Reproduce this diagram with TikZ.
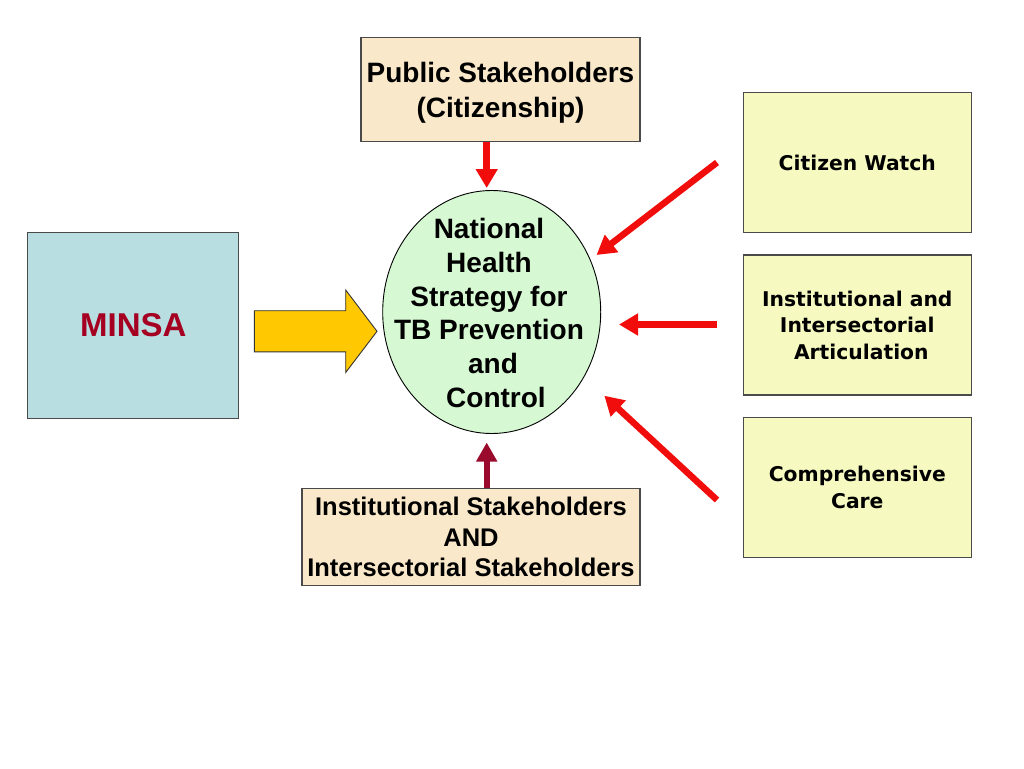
\documentclass[tikz,border=0pt]{standalone}
\usepackage{fontspec}
\setmainfont{Liberation Sans}
\newfontfamily\dejavu{DejaVu Sans}
\usetikzlibrary{arrows.meta,shapes.geometric}
\definecolor{wheatfill}{HTML}{F9E8C9}
\definecolor{limefill}{HTML}{F6FAC0}
\definecolor{bluefill}{HTML}{B8DEE2}
\definecolor{greenfill}{HTML}{D6F8D2}
\definecolor{minsared}{HTML}{A50021}
\definecolor{arrred}{HTML}{F20D0D}
\definecolor{darkred}{HTML}{990A2C}
\definecolor{boxline}{HTML}{4A4A4A}
\definecolor{goldfill}{HTML}{FFC800}
\tikzset{
  x=1pt, y=-1pt,
  stakebox/.style={draw=boxline, line width=1.2pt, fill=wheatfill, inner sep=0pt, align=center,
    font=\bfseries\fontsize{28}{35}\selectfont},
  sidebox/.style={draw=boxline, line width=1.2pt, fill=limefill, inner sep=0pt, align=center,
    minimum width=228pt, minimum height=140pt, font=\dejavu\bfseries\fontsize{20.3}{26.5}\selectfont},
  redarrow/.style={draw=arrred, line width=6.5pt, -{Triangle[length=19pt,width=21pt]}},
}
\begin{document}
\begin{tikzpicture}
\useasboundingbox[fill=white] (0,0) rectangle (1024,768);

% top and bottom boxes
\node[stakebox, minimum width=279pt, minimum height=104pt] (pub) at (500.5,89.5) {};
\node[align=center, font=\bfseries\fontsize{28}{35}\selectfont] (pubt) at (500.5,92.5)
  {Public Stakeholders\\(Citizenship)};
\node[stakebox, minimum width=338pt, minimum height=97pt, font=\bfseries\fontsize{25.5}{30.8}\selectfont] (inst) at (471,537)
  {Institutional Stakeholders\\AND\\Intersectorial Stakeholders};

% MINSA
\node[draw=boxline, line width=1.2pt, fill=bluefill, minimum width=211pt, minimum height=186pt,
  font=\bfseries\fontsize{33}{38}\selectfont, text=minsared] (minsa) at (133.3,325.5) {MINSA};

% central ellipse
\node[ellipse, draw=black, line width=0.9pt, fill=greenfill, minimum width=218pt, minimum height=243pt,
  inner sep=0pt] (nhs) at (491.7,312) {};
\node[align=center, font=\bfseries\fontsize{28}{33.9}\selectfont] (nhst) at (489,313)
  {National\\Health\\Strategy for\\TB Prevention\\\hspace*{8pt}and\\\hspace*{14pt}Control};

% right boxes
\node[sidebox] (cw) at (857.3,162.5) {Citizen Watch};
\node[sidebox] (iia) at (857.3,325) {Institutional and\\Intersectorial\\\hspace*{8pt}Articulation};
\node[sidebox] (cc) at (857.3,487.5) {Comprehensive\\Care};

% yellow block arrow
\draw[draw=black!80, line width=0.9pt, fill=goldfill]
  (254.3,310.7) -- (345.7,310.7) -- (345.7,290) -- (377,331.3) -- (345.7,372.5)
  -- (345.7,351.9) -- (254.3,351.9) -- cycle;

% vertical arrows
\coordinate (ta) at (486.7,188);
\draw[redarrow, line width=7pt] (pub.south -| ta) -- (ta);
\coordinate (ba) at (486.7,442.5);
\draw[draw=darkred, line width=6pt, -{Triangle[length=19pt,width=20pt]}] (inst.north -| ba) -- (ba);

% right arrows
\coordinate (s1) at (717,162.5);
\coordinate (e1) at (596.5,255);
\coordinate (s2) at (717,324.5);
\coordinate (e2) at (619,324.5);
\coordinate (s3) at (717,500);
\coordinate (e3) at (604.3,395.7);
\draw[redarrow] (s1) -- (e1);
\draw[redarrow] (s2) -- (e2);
\draw[redarrow] (s3) -- (e3);
\end{tikzpicture}
\end{document}
